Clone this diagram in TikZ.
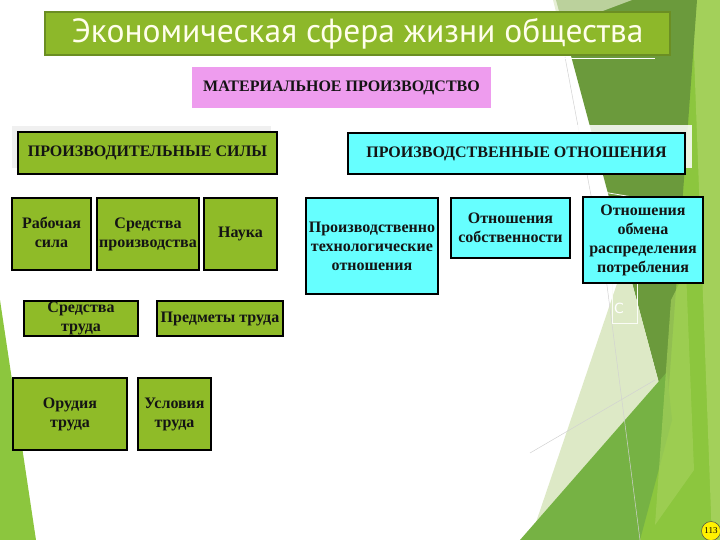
\documentclass[tikz,border=0pt]{standalone}
\usepackage{fontspec}
\setmainfont{Liberation Serif}
\newfontfamily\titlefont{PT Sans}
\newfontfamily\sansfnt{DejaVu Sans}
\definecolor{boxgreen}{HTML}{8FBB28}
\definecolor{titlegreen}{HTML}{8DB82A}
\definecolor{titleborder}{HTML}{6B8E23}
\definecolor{boxcyan}{HTML}{66FFFF}
\definecolor{boxpink}{HTML}{EE9CEE}
\definecolor{bgbright}{HTML}{8CC63E}
\definecolor{bglight}{HTML}{A3D05A}
\definecolor{bgdark}{HTML}{6B9A3C}
\definecolor{bgpale}{HTML}{DDE9C6}
\definecolor{bgmed}{HTML}{76B244}
\definecolor{txtdark}{HTML}{141414}
\tikzset{
  basebox/.style={draw=black, line width=1.2pt, inner sep=0pt, align=center,
    text=txtdark, font=\fontsize{16}{19}\selectfont\bfseries},
  gbox/.style={basebox, fill=boxgreen},
  cbox/.style={basebox, fill=boxcyan},
  pbox/.style={basebox, draw=none, fill=boxpink},
  bgline/.style={line width=0.5pt, draw=gray!35},
}
\begin{document}
\begin{tikzpicture}[x=1pt, y=-1pt]
\useasboundingbox (0,0) rectangle (720,540);
\fill[white] (0,0) rectangle (720,540);
% background facets
\fill[bgbright] (630,0) -- (720,0) -- (720,540) -- (600,540) -- (668,413) -- cycle;
\fill[bglight] (692,0) -- (720,0) -- (720,540) -- (712,540) -- cycle;
\fill[bgdark] (556,0) -- (697,0) -- (667,413) -- cycle;
\fill[bgpale] (625.5,258.6) -- (667,413) -- (620,540) -- (530,540) -- cycle;
\fill[bgmed] (520,540) -- (667,372) -- (672,420) -- (640,540) -- cycle;
\fill[bglight, opacity=0.7] (671,300) -- (686,270) -- (694,470) -- (655,525) -- cycle;
\fill[bgpale, opacity=0.7] (553,0) -- (632,0) -- (600,12) -- (556,12) -- cycle;
\fill[bgbright] (0,300) -- (36,540) -- (0,540) -- cycle;
\draw[bgline] (565,57) -- (605,270) -- (640,540);
\draw[bgline] (530,453) -- (655,380);
\draw[white, line width=0.8pt] (440,58) -- (655,58);
\draw[white, line width=0.8pt] (603,192) -- (650,200);
\draw[white!85!bgpale, line width=0.6pt] (612,283) rectangle (637,323);
\node[text=white, font=\sansfnt\fontsize{14}{14}\selectfont] (cc) at (619,308) {С};
% title
\node[draw=titleborder, line width=2.5pt, fill=titlegreen, minimum width=625, minimum height=43,
  inner sep=0pt, text=white!92!yellow, font=\titlefont\fontsize{33.5}{33.5}\selectfont] (title) at (357.5,33.5)
  {Экономическая сфера жизни общества};
% shadows
\fill[gray!12] (12,126) rectangle (271,168);
\fill[white, opacity=0.85] (341,125) rectangle (692,168);
% boxes
\node[pbox, minimum width=299, minimum height=41] (mat) at (341.5,87.5) {МАТЕРИАЛЬНОЕ ПРОИЗВОДСТВО};
\node[gbox, minimum width=259, minimum height=42] (psily) at (147.5,153) {ПРОИЗВОДИТЕЛЬНЫЕ СИЛЫ};
\node[cbox, minimum width=337, minimum height=41] (potn) at (516.5,153.5) {ПРОИЗВОДСТВЕННЫЕ ОТНОШЕНИЯ};
\node[gbox, minimum width=79, minimum height=72] (rab) at (51.5,234)
  {\raisebox{7pt}{\begin{tabular}{@{}c@{}}Рабочая\\сила\end{tabular}}};
\node[gbox, minimum width=102, minimum height=72] (sredpr) at (148,234) {Средства\\производства};
\node[gbox, minimum width=73, minimum height=72] (nauka) at (240.5,234) {Наука};
\node[gbox, minimum width=114, minimum height=35] (sredtr) at (81,318.5) {Средства\\труда};
\node[gbox, minimum width=126, minimum height=35] (predm) at (220,318.5) {Предметы труда};
\node[gbox, minimum width=114, minimum height=72] (orud) at (70,414) {Орудия\\труда};
\node[gbox, minimum width=73, minimum height=72] (usl) at (174.5,414) {Условия\\труда};
\node[cbox, minimum width=132, minimum height=96] (ptech) at (372,246) {Производственно\\технологические\\отношения};
\node[cbox, minimum width=119, minimum height=60] (sobst) at (510.5,228) {Отношения\\собственности};
\node[cbox, minimum width=120, minimum height=86] (obmen) at (643,240) {Отношения\\обмена\\распределения\\потребления};
% page number
\node[circle, draw=black!70, line width=0.5pt, fill=yellow, inner sep=0.5pt, minimum size=19,
  font=\fontsize{9}{9}\selectfont] (pg) at (711,531) {113};
\end{tikzpicture}
\end{document}
